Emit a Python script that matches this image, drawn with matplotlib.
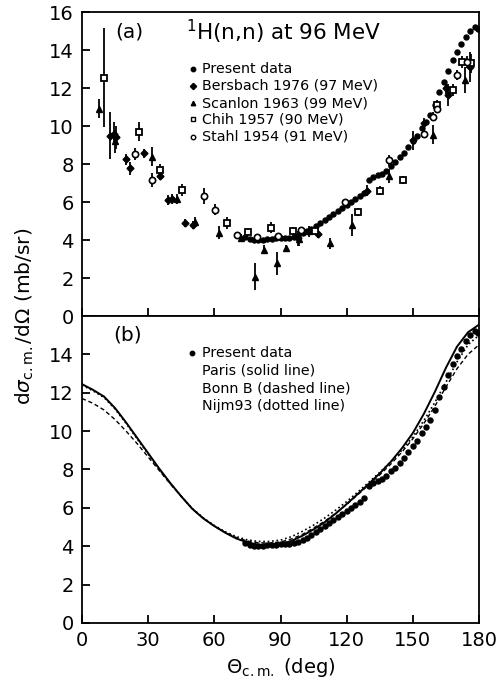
import matplotlib
matplotlib.use("Agg")
import matplotlib.pyplot as plt
import numpy as np

plt.rcParams['font.family'] = ['DejaVu Sans']
plt.rcParams['mathtext.fontset'] = 'dejavusans'

# ---------------- data ----------------
present_ang = [74, 76, 78, 80, 82, 84, 86, 88, 90, 92, 94, 96, 98, 100, 102, 104, 106, 108,
               110, 112, 114, 116, 118, 120, 122, 124, 126, 128, 130, 132, 134, 136, 138,
               140, 142, 144, 146, 148, 150, 152, 154, 156, 158, 160, 162, 164, 166, 168,
               170, 172, 174, 176, 178, 179.5]
present_val = [4.15, 4.05, 4.0, 4.0, 4.02, 4.05, 4.05, 4.08, 4.1, 4.1, 4.12, 4.15, 4.2, 4.35,
               4.45, 4.6, 4.75, 4.9, 5.05, 5.2, 5.35, 5.55, 5.7, 5.85, 6.0, 6.15, 6.3, 6.5,
               7.15, 7.3, 7.4, 7.5, 7.65, 7.9, 8.1, 8.35, 8.6, 8.9, 9.2, 9.5, 9.9, 10.2,
               10.6, 11.1, 11.8, 12.3, 12.9, 13.5, 13.9, 14.3, 14.7, 15.0, 15.2, 15.1]

bersbach_ang = [12.7, 14.5, 15.5, 19.9, 21.8, 28.1, 35.5, 39.0, 41.0, 46.7, 50.2, 98.0, 107.0,
                129.0, 149.9, 155.0, 165.0, 166.0, 175.9]
bersbach_val = [9.5, 9.6, 9.4, 8.25, 7.77, 8.56, 7.35, 6.1, 6.15, 4.91, 4.79, 4.1, 4.3,
                6.6, 9.26, 10.16, 11.98, 11.63, 13.1]
bersbach_err = [1.25, 0.6, 0.6, 0.3, 0.35, 0.25, 0.2, 0.25, 0.25, 0.2, 0.2, 0.4, 0.2,
                0.3, 0.5, 0.25, 0.3, 0.6, 0.8]

scanlon_ang = [7.7, 15.0, 31.7, 43.0, 51.2, 62.2, 72.0, 78.4, 82.6, 88.2, 92.5, 98.5, 103.0,
               112.4, 122.3, 139.3, 159.0, 173.6]
scanlon_val = [10.9, 9.2, 8.39, 6.15, 4.96, 4.39, 4.1, 2.07, 3.5, 2.77, 3.56, 4.03, 4.45,
               3.83, 4.79, 7.37, 9.53, 12.42]
scanlon_err = [0.5, 0.6, 0.5, 0.25, 0.25, 0.35, 0.2, 0.7, 0.25, 0.6, 0.2, 0.35, 0.3,
               0.3, 0.6, 0.35, 0.5, 0.7]

chih_ang = [10.1, 25.7, 35.5, 45.3, 65.6, 75.4, 85.5, 95.5, 105.6, 125.3, 135.1, 145.4,
            160.8, 168.0, 172.1, 176.5]
chih_val = [12.55, 9.7, 7.7, 6.63, 4.9, 4.44, 4.65, 4.49, 4.5, 5.49, 6.6, 7.16,
            11.1, 11.9, 13.38, 13.3]
chih_err = [2.6, 0.5, 0.3, 0.3, 0.3, 0.2, 0.3, 0.2, 0.2, 0.2, 0.25, 0.2,
            0.25, 0.3, 0.3, 0.5]

stahl_ang = [24.0, 31.7, 55.3, 60.3, 70.1, 79.5, 89.0, 99.5, 119.2, 139.3, 155.0, 159.2,
             161.0, 169.9, 174.4]
stahl_val = [8.53, 7.16, 6.32, 5.6, 4.26, 4.18, 4.2, 4.55, 6.02, 8.2, 9.58, 10.49,
             10.9, 12.68, 13.38]
stahl_err = [0.3, 0.35, 0.4, 0.3, 0.15, 0.15, 0.15, 0.15, 0.15, 0.3, 0.2, 0.25,
             0.2, 0.25, 0.3]

theory_ang = [0, 5, 10, 15, 20, 25, 30, 35, 40, 45, 50, 55, 60, 65, 70, 75, 80, 85, 90,
              95, 100, 105, 110, 115, 120, 125, 130, 135, 140, 145, 150, 155, 160, 165,
              170, 175, 180]
paris_val = [12.45, 12.15, 11.8, 11.2, 10.45, 9.65, 8.85, 8.05, 7.3, 6.6, 5.95, 5.45, 5.05,
             4.7, 4.4, 4.2, 4.08, 4.05, 4.1, 4.28, 4.55, 4.88, 5.25, 5.7, 6.2, 6.72, 7.25,
             7.8, 8.4, 9.1, 9.9, 10.9, 12.05, 13.3, 14.4, 15.15, 15.55]
bonn_val = [11.7, 11.45, 11.1, 10.6, 10.0, 9.35, 8.65, 7.95, 7.25, 6.6, 5.95, 5.45, 5.05,
            4.72, 4.45, 4.27, 4.18, 4.17, 4.22, 4.38, 4.62, 4.95, 5.3, 5.72, 6.18, 6.68,
            7.2, 7.72, 8.28, 8.9, 9.6, 10.4, 11.3, 12.3, 13.25, 14.0, 14.5]
nijm_val = [12.4, 12.1, 11.75, 11.15, 10.4, 9.6, 8.8, 8.0, 7.28, 6.6, 5.97, 5.48, 5.08,
            4.75, 4.5, 4.33, 4.25, 4.25, 4.32, 4.5, 4.78, 5.1, 5.47, 5.88, 6.33, 6.82,
            7.33, 7.85, 8.4, 9.0, 9.7, 10.55, 11.5, 12.55, 13.6, 14.5, 15.0]

xticks = [0, 30, 60, 90, 120, 150, 180]
yticks_a = [0, 2, 4, 6, 8, 10, 12, 14, 16]
yticks_b = [0, 2, 4, 6, 8, 10, 12, 14]

# ---------------- figure ----------------
fig = plt.figure(figsize=(5.0, 6.84), dpi=100)
axa = fig.add_axes([0.164, 0.538, 0.794, 0.4444])
axb = fig.add_axes([0.164, 0.0892, 0.794, 0.4488])

for ax in (axa, axb):
    ax.set_xlim(0, 180)
    ax.set_ylim(0, 16)
    ax.set_xticks(xticks)
    for s in ax.spines.values():
        s.set_linewidth(1.3)
    ax.tick_params(direction='in', length=6, width=1.3, labelsize=14,
                   top=False, right=False, pad=6)

axa.set_yticks(yticks_a)
axa.set_xticklabels([])
axb.set_yticks(yticks_b)

eb_kw = dict(ls='none', ecolor='black', elinewidth=1.3, capsize=0, color='black')

# panel (a)
axa.errorbar(bersbach_ang, bersbach_val, yerr=bersbach_err, marker='D', ms=3.5, **eb_kw)
axa.errorbar(scanlon_ang, scanlon_val, yerr=scanlon_err, marker='^', ms=4, **eb_kw)
axa.errorbar(chih_ang, chih_val, yerr=chih_err, marker='s', ms=5, mfc='white', mew=1.3, **eb_kw)
axa.errorbar(stahl_ang, stahl_val, yerr=stahl_err, marker='o', ms=4.5, mfc='white', mew=1.2, **eb_kw)
axa.plot(present_ang, present_val, 'o', color='black', ms=3.6, ls='none')

axa.text(0.083, 0.934, '(a)', transform=axa.transAxes, fontsize=14.5, va='center', ha='left')
axa.text(0.262, 0.934, r'$^{\rm 1}$H(n,n) at 96 MeV', transform=axa.transAxes, fontsize=15.5,
         va='center', ha='left')

leg_a = [('o', 'black', 'Present data'),
         ('D', 'black', 'Bersbach 1976 (97 MeV)'),
         ('^', 'black', 'Scanlon 1963 (99 MeV)'),
         ('s', 'white', 'Chih 1957 (90 MeV)'),
         ('o', 'white', 'Stahl 1954 (91 MeV)')]
rows_a = [0.8125, 0.757, 0.70, 0.648, 0.589]
for (m, fc, lab), yy in zip(leg_a, rows_a):
    axa.plot([0.28], [yy], marker=m, ms=3.2, mfc=fc, mec='black', mew=1.0,
             transform=axa.transAxes, ls='none', clip_on=False)
    axa.text(0.302, yy, lab, transform=axa.transAxes, fontsize=10.3, va='center', ha='left')

# panel (b)
axb.plot(theory_ang, paris_val, '-', color='black', lw=1.4)
axb.plot(theory_ang, bonn_val, '--', color='black', lw=1.0, dashes=(3, 2))
axb.plot(theory_ang, nijm_val, ':', color='black', lw=1.2)
axb.plot(present_ang, present_val, 'o', color='black', ms=3.6, ls='none')

axb.text(0.078, 0.938, '(b)', transform=axb.transAxes, fontsize=14.5, va='center', ha='left')
rows_b = [0.879, 0.821, 0.765, 0.707]
labs_b = ['Present data', 'Paris (solid line)', 'Bonn B (dashed line)', 'Nijm93 (dotted line)']
axb.plot([0.277], [rows_b[0]], 'o', color='black', ms=3.2, transform=axb.transAxes)
for lab, yy in zip(labs_b, rows_b):
    axb.text(0.302, yy, lab, transform=axb.transAxes, fontsize=10.3, va='center', ha='left')

axb.set_xlabel(r'$\Theta_{\rm c.m.}$ (deg)', fontsize=14, labelpad=4)
fig.text(0.05, 0.538, r'd$\sigma_{\rm c.m.}$/d$\Omega$ (mb/sr)', rotation=90,
         fontsize=14.5, va='center', ha='center')

fig.savefig('out.png', dpi=100)
